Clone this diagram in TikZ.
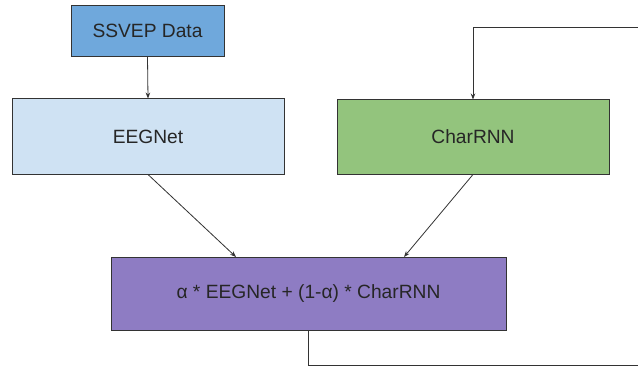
\documentclass[tikz,border=0pt]{standalone}
\usepackage{fontspec}
\setmainfont{Liberation Sans}
\usetikzlibrary{arrows.meta,calc}
\definecolor{ssvepc}{HTML}{6FA8DC}
\definecolor{eegc}{HTML}{CFE2F3}
\definecolor{charc}{HTML}{93C47D}
\definecolor{mixc}{HTML}{8E7CC3}
\definecolor{edgec}{HTML}{333333}
\begin{document}
\begin{tikzpicture}[x=1pt,y=-1pt,
  boxst/.style={draw=edgec,line width=1pt,inner sep=0pt,font=\fontsize{19.2}{23}\selectfont,text=black!85},
  conn/.style={draw=edgec,line width=0.8pt,-{Stealth[length=6pt,width=4.5pt]}},
  plainconn/.style={draw=edgec,line width=0.8pt}]
\useasboundingbox (0,0) rectangle (638,369);
\fill[white] (0,0) rectangle (638,369);
\node[boxst,fill=ssvepc,minimum width=153pt,minimum height=51pt] (ssvep) at (147.5,31) {SSVEP Data};
\node[boxst,fill=eegc,minimum width=272pt,minimum height=75pt] (eeg) at (148,136.5) {EEGNet};
\node[boxst,fill=charc,minimum width=272pt,minimum height=74pt] (char) at (473,137) {CharRNN};
\node[boxst,fill=mixc,minimum width=395pt,minimum height=73pt] (mix) at (308.5,293.5) {α * EEGNet + (1-α) * CharRNN};
\coordinate (mixinL) at (236,257);
\coordinate (mixinR) at (404,257);
\coordinate (loopBR) at (645,365);
\coordinate (loopTR) at (645,27);
\draw[conn] (ssvep.south) -- (eeg.north);
\draw[conn] (eeg.south) -- (mixinL);
\draw[conn] (char.south) -- (mixinR);
\draw[conn] (mix.south) |- (loopBR) -- (loopTR) -| (char.north);
\end{tikzpicture}
\end{document}
